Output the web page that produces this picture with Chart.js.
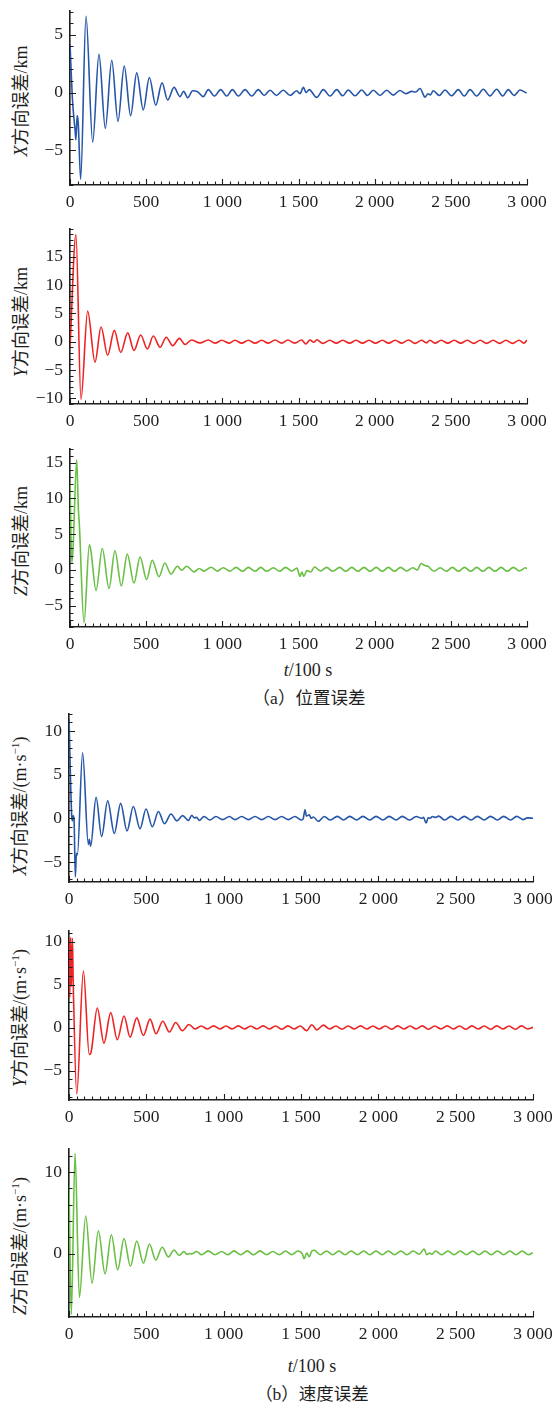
<!DOCTYPE html>
<html>
<head>
<meta charset="utf-8">
<script src="https://cdn.jsdelivr.net/npm/chart.js@4.4.0/dist/chart.umd.min.js"></script>
<style>
  html, body { margin: 0; padding: 0; background: #fff; overflow: hidden; }
  body { position: relative; width: 553px; height: 1408px; color: #1e1e1e;
         font-family: "Liberation Serif", "Noto Sans CJK SC", serif; }
  canvas { position: absolute; left: 0; }
  .ytitle { position: absolute; white-space: nowrap; font-size: 18px; line-height: 1;
            transform: translate(-50%, -50%) rotate(-90deg); }
  .xtitle { position: absolute; white-space: nowrap; font-size: 18px; line-height: 1;
            transform: translate(-50%, -50%); }
  .caption { position: absolute; white-space: nowrap; font-size: 17.5px; line-height: 1;
             transform: translate(-50%, -50%); }
  sup { font-size: 62%; vertical-align: 0; position: relative; top: -0.6em; }
</style>
</head>
<body>
<div class="ytitle" style="left:21px;top:101px"><i>X</i>方向误差/km</div>
<div class="ytitle" style="left:21px;top:322px"><i>Y</i>方向误差/km</div>
<div class="ytitle" style="left:21px;top:541px"><i>Z</i>方向误差/km</div>
<div class="xtitle" style="left:308px;top:670px"><i>t</i>/100 s</div>
<div class="caption" style="left:309px;top:699px">（a）位置误差</div>
<div class="ytitle" style="left:20px;top:806px"><i>X</i>方向误差/(m·s<sup>−1</sup>)</div>
<div class="ytitle" style="left:20px;top:1018px"><i>Y</i>方向误差/(m·s<sup>−1</sup>)</div>
<div class="ytitle" style="left:20px;top:1246px"><i>Z</i>方向误差/(m·s<sup>−1</sup>)</div>
<div class="xtitle" style="left:312px;top:1366px"><i>t</i>/100 s</div>
<div class="caption" style="left:312px;top:1395px">（b）速度误差</div>

<script>
// Time axis (unit: 100 s)
const timeTicks = [0, 500, 1000, 1500, 2000, 2500, 3000];
const timeTickLabels = ['0', '500', '1 000', '1 500', '2 000', '2 500', '3 000'];

// Position errors, km: [t, error]
const xPosErr = [[0,4.2],[17,-0.8],[33,-3.2],[39,-4.1],[47,-2.0],[54,-2.6],[70,-7.5],[105,6.6],[149,-4.3],[190,3.3],[232,-3.1],[274,2.8],[315,-2.5],[356,2.3],[398,-2.0],[438,1.7],[481,-1.5],[521,1.3],[563,-1.1],[604,0.85],[641,-0.65],[683,0.45],[722,-0.35],[746,0.1],[773,-0.45],[805,0.15],[835,0.1],[875,-0.35],[908,0.25],[948,-0.3],[989,0.25],[1029,-0.3],[1066,0.25],[1105,-0.3],[1149,0.25],[1193,-0.3],[1236,0.25],[1275,-0.25],[1313,0.2],[1355,-0.25],[1400,0.2],[1445,-0.25],[1488,0.15],[1510,-0.1],[1532,0.45],[1550,0.0],[1570,0.25],[1619,-0.42],[1663,0.25],[1707,-0.3],[1751,0.25],[1790,-0.28],[1827,0.22],[1871,-0.28],[1915,0.22],[1953,-0.25],[1991,0.2],[2035,-0.25],[2079,0.2],[2122,-0.22],[2166,0.18],[2205,-0.1],[2243,0.1],[2270,0.05],[2298,0.35],[2331,-0.4],[2350,-0.1],[2365,-0.2],[2385,0.15],[2424,-0.25],[2462,0.22],[2505,-0.28],[2549,0.25],[2588,-0.3],[2626,0.25],[2670,-0.3],[2713,0.28],[2757,-0.3],[2801,0.28],[2840,-0.3],[2877,0.25],[2915,-0.25],[2954,0.22],[2998,-0.05]];
const yPosErr = [[0,-1.0],[39,18.9],[72,-10.2],[116,5.4],[164,-3.6],[204,2.6],[247,-2.4],[291,2.0],[333,-1.9],[379,1.56],[420,-1.56],[464,1.2],[508,-1.27],[547,1.0],[591,-0.98],[632,0.8],[674,-0.7],[718,0.6],[755,-0.5],[797,0.3],[853,-0.2],[908,0.3],[952,-0.25],[996,0.25],[1046,-0.25],[1083,0.25],[1127,-0.25],[1171,0.25],[1215,-0.25],[1258,0.25],[1302,-0.25],[1346,0.3],[1390,-0.25],[1430,0.3],[1475,-0.25],[1520,0.3],[1548,-0.4],[1575,0.3],[1600,-0.1],[1620,0.35],[1660,-0.3],[1705,0.25],[1748,-0.25],[1790,0.25],[1835,-0.25],[1878,0.25],[1920,-0.25],[1963,0.25],[2005,-0.25],[2050,0.25],[2092,-0.25],[2135,0.25],[2178,-0.25],[2222,0.3],[2265,-0.3],[2308,0.25],[2340,-0.2],[2362,0.25],[2395,-0.25],[2437,0.25],[2480,-0.25],[2522,0.25],[2565,-0.25],[2608,0.25],[2650,-0.3],[2693,0.25],[2735,-0.3],[2778,0.25],[2820,-0.3],[2862,0.25],[2905,-0.3],[2948,0.25],[2980,-0.25],[3000,0.3]];
const zPosErr = [[0,12.2],[12,1.0],[20,3.0],[44,15.4],[55,8.5],[61,6.5],[92,-7.4],[127,3.5],[137,2.7],[171,-2.9],[212,3.0],[256,-2.6],[295,2.67],[337,-2.25],[376,2.2],[420,-1.84],[460,1.8],[503,-1.34],[540,1.34],[584,-0.97],[622,0.97],[663,-0.6],[705,0.5],[733,-0.05],[766,0.5],[814,-0.28],[849,0.2],[880,-0.17],[926,0.37],[968,-0.17],[1006,0.3],[1050,-0.17],[1090,0.35],[1133,-0.2],[1171,0.35],[1215,-0.2],[1252,0.35],[1291,-0.2],[1335,0.3],[1375,-0.2],[1415,0.35],[1455,-0.15],[1490,0.25],[1510,-0.9],[1522,-0.3],[1535,-0.9],[1555,-0.1],[1580,-0.3],[1605,0.4],[1645,-0.15],[1685,0.35],[1725,-0.2],[1770,0.35],[1810,-0.2],[1850,0.35],[1890,-0.2],[1930,0.35],[1970,-0.2],[2010,0.35],[2050,-0.2],[2090,0.35],[2130,-0.2],[2170,0.35],[2210,-0.15],[2250,0.3],[2280,0.0],[2305,0.9],[2330,0.6],[2350,0.5],[2390,-0.2],[2430,0.3],[2470,-0.2],[2510,0.35],[2550,-0.2],[2590,0.35],[2630,-0.2],[2670,0.35],[2710,-0.2],[2750,0.35],[2790,-0.2],[2830,0.35],[2870,-0.2],[2910,0.35],[2950,-0.15],[2990,0.3],[3000,0.15]];

// Velocity errors, m/s: [t, error]
const xVelErr = [[0,11.4],[17,0.4],[22,-0.3],[28,0.3],[33,-0.3],[41,-6.7],[48,-4.0],[54,-4.2],[88,7.5],[125,-3.0],[131,-2.4],[140,-3.2],[175,2.4],[211,-2.1],[250,2.0],[293,-1.75],[334,1.7],[375,-1.45],[416,1.34],[459,-1.2],[498,1.07],[539,-0.97],[578,0.78],[617,-0.63],[660,0.49],[697,-0.3],[735,0.3],[772,-0.25],[794,0.33],[810,0.05],[825,0.1],[842,-0.25],[873,0.2],[911,-0.2],[950,0.2],[993,-0.15],[1037,0.2],[1073,-0.15],[1117,0.2],[1160,-0.15],[1203,0.2],[1246,-0.15],[1289,0.2],[1332,-0.15],[1375,0.2],[1418,-0.15],[1460,0.2],[1505,-0.2],[1515,0.0],[1526,0.97],[1535,0.25],[1554,0.4],[1565,0.0],[1580,0.15],[1612,-0.35],[1650,0.2],[1690,-0.2],[1735,0.22],[1775,-0.2],[1815,0.22],[1860,-0.2],[1900,0.22],[1945,-0.2],[1985,0.22],[2030,-0.2],[2070,0.22],[2115,-0.2],[2155,0.22],[2200,-0.2],[2245,0.2],[2280,0.0],[2292,0.1],[2309,-0.55],[2322,0.05],[2335,0.0],[2350,0.2],[2370,0.1],[2390,0.25],[2430,-0.2],[2470,0.22],[2515,-0.2],[2555,0.22],[2600,-0.2],[2640,0.22],[2685,-0.2],[2725,0.22],[2770,-0.2],[2810,0.22],[2855,-0.2],[2895,0.22],[2935,-0.15],[2965,0.05],[3000,0.0]];
const yVelErr = [[0,10.2],[5,3.5],[10,10.5],[15,4.8],[22,10.4],[27,5.5],[50,-7.7],[93,6.6],[131,-3.1],[140,-3.0],[183,2.3],[226,-1.8],[270,1.75],[312,-1.4],[356,1.37],[395,-1.1],[438,1.15],[481,-0.9],[524,1.0],[563,-0.7],[606,0.76],[649,-0.5],[690,0.6],[733,-0.35],[776,0.38],[815,-0.15],[855,0.2],[895,-0.15],[935,0.22],[975,-0.15],[1015,0.2],[1055,-0.15],[1095,0.22],[1135,-0.15],[1175,0.2],[1215,-0.15],[1255,0.22],[1295,-0.15],[1335,0.2],[1375,-0.18],[1415,0.22],[1455,-0.15],[1495,0.2],[1537,-0.35],[1570,0.35],[1602,-0.25],[1645,0.3],[1685,-0.15],[1725,0.2],[1765,-0.18],[1805,0.2],[1845,-0.15],[1885,0.22],[1925,-0.15],[1965,0.2],[2005,-0.15],[2045,0.2],[2085,-0.18],[2125,0.22],[2165,-0.15],[2205,0.2],[2245,-0.15],[2285,0.22],[2325,-0.18],[2365,0.2],[2405,-0.15],[2445,0.22],[2485,-0.15],[2525,0.2],[2565,-0.18],[2605,0.22],[2645,-0.15],[2685,0.2],[2725,-0.18],[2765,0.22],[2805,-0.15],[2845,0.2],[2885,-0.18],[2925,0.22],[2965,-0.15],[3000,0.05]];
const zVelErr = [[0,8.3],[15,-7.5],[39,12.3],[67,-5.4],[108,4.6],[149,-3.65],[190,2.8],[233,-2.5],[274,2.3],[315,-2.0],[356,1.85],[397,-1.57],[438,1.53],[481,-1.2],[520,1.17],[561,-0.8],[602,0.76],[643,-0.42],[679,0.44],[712,-0.24],[744,0.24],[762,-0.1],[780,0.0],[795,-0.05],[825,0.24],[857,-0.16],[900,0.32],[944,-0.16],[987,0.24],[1026,-0.16],[1067,0.32],[1110,-0.16],[1153,0.32],[1192,-0.16],[1235,0.32],[1278,-0.16],[1317,0.24],[1360,-0.15],[1400,0.3],[1440,-0.15],[1480,0.3],[1510,-0.1],[1520,-0.65],[1537,0.05],[1554,-0.4],[1570,0.3],[1585,0.4],[1625,-0.15],[1665,0.3],[1705,-0.15],[1745,0.3],[1785,-0.15],[1825,0.3],[1865,-0.15],[1905,0.3],[1945,-0.15],[1985,0.3],[2025,-0.15],[2065,0.3],[2105,-0.15],[2145,0.3],[2185,-0.15],[2225,0.3],[2265,-0.1],[2296,0.55],[2313,-0.15],[2330,0.05],[2345,-0.1],[2370,0.3],[2410,-0.15],[2450,0.3],[2490,-0.15],[2530,0.3],[2570,-0.15],[2610,0.3],[2650,-0.15],[2690,0.3],[2730,-0.15],[2770,0.3],[2810,-0.15],[2850,0.3],[2890,-0.15],[2930,0.3],[2970,-0.15],[3000,0.1]];

// Labelled y ticks for each panel
const xPosTicks = [-5, 0, 5];
const yPosTicks = [-10, -5, 0, 5, 10, 15];
const zPosTicks = [-5, 0, 5, 10, 15];
const xVelTicks = [-5, 0, 5, 10];
const yVelTicks = [-5, 0, 5, 10];
const zVelTicks = [0, 10];

const BLUE = '#2656a8', RED = '#ee2424', GREEN = '#6abf45';
const INK = '#1e1e1e';
const CANVAS_W = 600;

// Short tick marks pointing into the plot area
const inwardTicks = {
  id: 'inwardTicks',
  afterDatasetsDraw(chart) {
    const o = chart.options.plugins.inwardTicks;
    const { ctx, chartArea: a, scales: { x, y } } = chart;
    ctx.save();
    ctx.strokeStyle = INK;
    ctx.lineWidth = 1.1;
    ctx.beginPath();
    for (let v = x.min; v <= x.max + 1e-6; v += o.xMinor) {
      const px = Math.round(x.getPixelForValue(v)) + 0.5;
      const len = timeTicks.includes(v) ? 6 : 3.5;
      ctx.moveTo(px, a.bottom);
      ctx.lineTo(px, a.bottom - len);
    }
    const start = Math.ceil(y.min / o.yMinor) * o.yMinor;
    for (let v = start; v <= y.max + 1e-6; v += o.yMinor) {
      const py = Math.round(y.getPixelForValue(v)) + 0.5;
      const len = o.yMajor.includes(v) ? 6 : 3.5;
      ctx.moveTo(a.left, py);
      ctx.lineTo(a.left + len, py);
    }
    ctx.stroke();
    ctx.restore();
  }
};

const fmt = v => (v < 0 ? '\u2212' + Math.abs(v) : String(v));
const tickFont = { family: '"Liberation Serif", serif', size: 17.5 };

function panel(cfg) {
  const padTop = 14, axisH = 34;
  const h = cfg.bottom - cfg.top + padTop + axisH;
  const canvas = document.createElement('canvas');
  canvas.width = CANVAS_W;
  canvas.height = h;
  canvas.style.top = (cfg.top - padTop) + 'px';
  canvas.style.width = CANVAS_W + 'px';
  canvas.style.height = h + 'px';
  document.body.appendChild(canvas);

  new Chart(canvas, {
    type: 'line',
    data: {
      datasets: [{
        data: cfg.series.map(p => ({ x: p[0], y: p[1] })),
        borderColor: cfg.color,
        borderWidth: 1.6,
        pointRadius: 0,
        fill: false,
        cubicInterpolationMode: 'monotone'
      }]
    },
    options: {
      responsive: false,
      animation: false,
      devicePixelRatio: 1,
      layout: { padding: { top: padTop, left: 0, right: CANVAS_W - cfg.right, bottom: 0 } },
      plugins: {
        legend: { display: false },
        tooltip: { enabled: false },
        inwardTicks: { xMinor: 50, yMinor: cfg.yMinor, yMajor: cfg.yTicks }
      },
      scales: {
        x: {
          type: 'linear', min: 0, max: 3000,
          grid: { display: false, drawTicks: false },
          border: { display: true, color: INK, width: 1.6 },
          afterBuildTicks: s => { s.ticks = timeTicks.map(v => ({ value: v })); },
          afterFit: s => { s.height = axisH; },
          ticks: {
            autoSkip: false, maxRotation: 0, padding: 7, color: INK, font: tickFont,
            callback: v => timeTickLabels[timeTicks.indexOf(v)]
          }
        },
        y: {
          type: 'linear', min: cfg.ymin, max: cfg.ymax,
          grid: { display: false, drawTicks: false },
          border: { display: true, color: INK, width: 1.6 },
          afterBuildTicks: s => { s.ticks = cfg.yTicks.map(v => ({ value: v })); },
          afterFit: s => { s.width = cfg.left; },
          ticks: { padding: 7, color: INK, font: tickFont, callback: v => fmt(v) }
        }
      }
    },
    plugins: [inwardTicks]
  });
}

// (a) position errors
panel({ series: xPosErr, color: BLUE,  top: 7,   bottom: 185, left: 70, right: 527, ymin: -8,   ymax: 7.1,  yTicks: xPosTicks, yMinor: 1 });
panel({ series: yPosErr, color: RED,   top: 225, bottom: 404, left: 70, right: 527, ymin: -11,  ymax: 20,   yTicks: yPosTicks, yMinor: 1 });
panel({ series: zPosErr, color: GREEN, top: 445, bottom: 627, left: 70, right: 527, ymin: -8,   ymax: 17,   yTicks: zPosTicks, yMinor: 1 });
// (b) velocity errors
panel({ series: xVelErr, color: BLUE,  top: 710, bottom: 882,  left: 69, right: 533, ymin: -7.3, ymax: 12,   yTicks: xVelTicks, yMinor: 1 });
panel({ series: yVelErr, color: RED,   top: 927, bottom: 1100, left: 69, right: 533, ymin: -8.4, ymax: 11.3, yTicks: yVelTicks, yMinor: 1 });
panel({ series: zVelErr, color: GREEN, top: 1145, bottom: 1317, left: 69, right: 533, ymin: -7.8, ymax: 12.9, yTicks: zVelTicks, yMinor: 2 });
</script>
</body>
</html>
